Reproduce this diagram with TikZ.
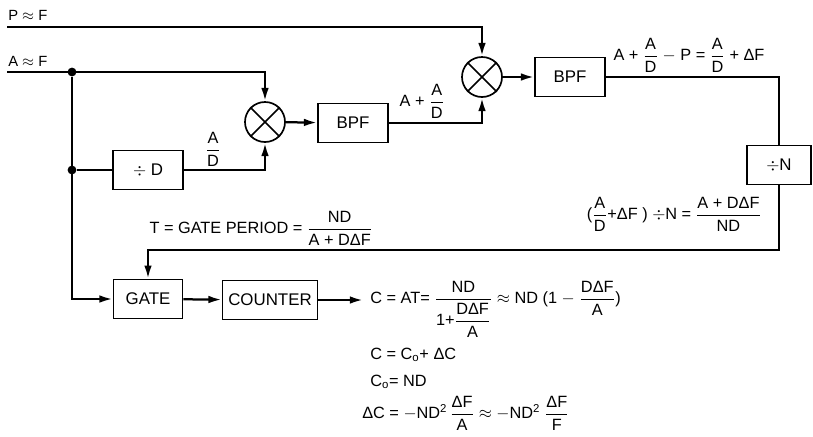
\documentclass[tikz,border=0pt]{standalone}
\usepackage{amsmath}
\usepackage{fontspec}
\setmainfont{Liberation Sans}
\usetikzlibrary{arrows.meta}
\newcommand{\fr}[2]{$\genfrac{}{}{0.7pt}{0}{\text{#1}}{\text{#2}}$}
\tikzset{
	wire/.style={line width=1.6pt},
	arr/.style={wire, -{Latex[length=3.3mm,width=1.9mm]}},
	blk/.style={draw, line width=1.2pt, minimum width=#1*0.025cm, minimum height=0.97cm, inner sep=0pt, font=\fontsize{12}{14}\selectfont},
	blk/.default=70,
	mix/.style={draw, circle, line width=1.2pt, minimum size=1cm, inner sep=0pt},
	lbl/.style={inner sep=0pt, font=\fontsize{11.6}{14}\selectfont},
	dot/.style={circle, fill, minimum size=0.22cm, inner sep=0pt},
}
\begin{document}
\begin{tikzpicture}[x=0.025cm, y=-0.025cm]
	\useasboundingbox (0,0) rectangle (813,436);
	% Paths, nodes and wires:
	\coordinate (pIn) at (7,27);
	\coordinate (aIn) at (7,72);
	\node[lbl, anchor=west, font=\fontsize{10.5}{12}\selectfont] (pLbl) at (8,15) {P $\approx$ F};
	\node[lbl, anchor=west, font=\fontsize{10.5}{12}\selectfont] (aLbl) at (8,61) {A $\approx$ F};
	\node[dot] (J1) at (72,72) {};
	\node[dot] (J2) at (72,170) {};
	\node[blk] (divD) at (148,170) {$\div$ D};
	\node[mix] (mixA) at (265,122) {};
	\node[blk] (bpfA) at (353,123) {BPF};
	\node[mix] (mixB) at (482,77) {};
	\node[blk] (bpfB) at (570,77) {BPF};
	\node[blk=64] (divN) at (779,165) {$\div$N};
	\node[blk=69] (gate) at (148,299) {GATE};
	\node[blk=95] (counter) at (270,300) {COUNTER};
	\coordinate (fbTurn) at (148,250);
	\coordinate (cOut) at (363,300);
	\draw[line width=1.2pt] (mixA.north west) -- (mixA.south east) (mixA.north east) -- (mixA.south west);
	\draw[line width=1.2pt] (mixB.north west) -- (mixB.south east) (mixB.north east) -- (mixB.south west);
	\draw[arr] (pIn) -| (mixB);
	\draw[arr] (aIn) -| (mixA);
	\draw[arr] (J1) |- (gate);
	\draw[wire] (J2) -- (divD);
	\draw[arr] (divD) -| (mixA);
	\draw[arr] (mixA) -- (bpfA);
	\draw[arr] (bpfA) -| (mixB);
	\draw[arr] (mixB) -- (bpfB);
	\draw[wire] (bpfB) -| (divN);
	\draw[arr] (divN) |- (fbTurn) -- (gate);
	\draw[arr] (gate) -- (counter);
	\draw[arr] (counter) -- (cOut);
	% Labels:
	\node[lbl] (lAD) at (213,149) {\fr{A}{D}};
	\node[lbl] (lApAD) at (422,101) {A + \fr{A}{D}};
	\node[lbl] (lDiff) at (689,55) {A + \fr{A}{D} $-$ P = \fr{A}{D} + ΔF};
	\node[lbl] (lGate) at (261,228) {T = GATE PERIOD = \fr{ND}{A + DΔF}};
	\node[lbl] (lDivN) at (674,214) {(\fr{A}{D}+ΔF ) $\div$N = \fr{A + DΔF}{ND}};
	\node[lbl, anchor=west] (eqC) at (370,309) {C = AT= \fr{ND}{1+\fr{DΔF}{A}} $\approx$ ND (1 $-$ \fr{DΔF}{A})};
	\node[lbl, anchor=west] (eqSum) at (370,355) {C = C\textsubscript{o}+ ΔC};
	\node[lbl, anchor=west] (eqCo) at (370,382) {C\textsubscript{o}= ND};
	\node[lbl, anchor=west] (eqDC) at (362,413) {ΔC = $-$ND\textsuperscript{2}\,\fr{ΔF}{A} $\approx$ $-$ND\textsuperscript{2}\;\fr{ΔF}{F}};
\end{tikzpicture}
\end{document}
